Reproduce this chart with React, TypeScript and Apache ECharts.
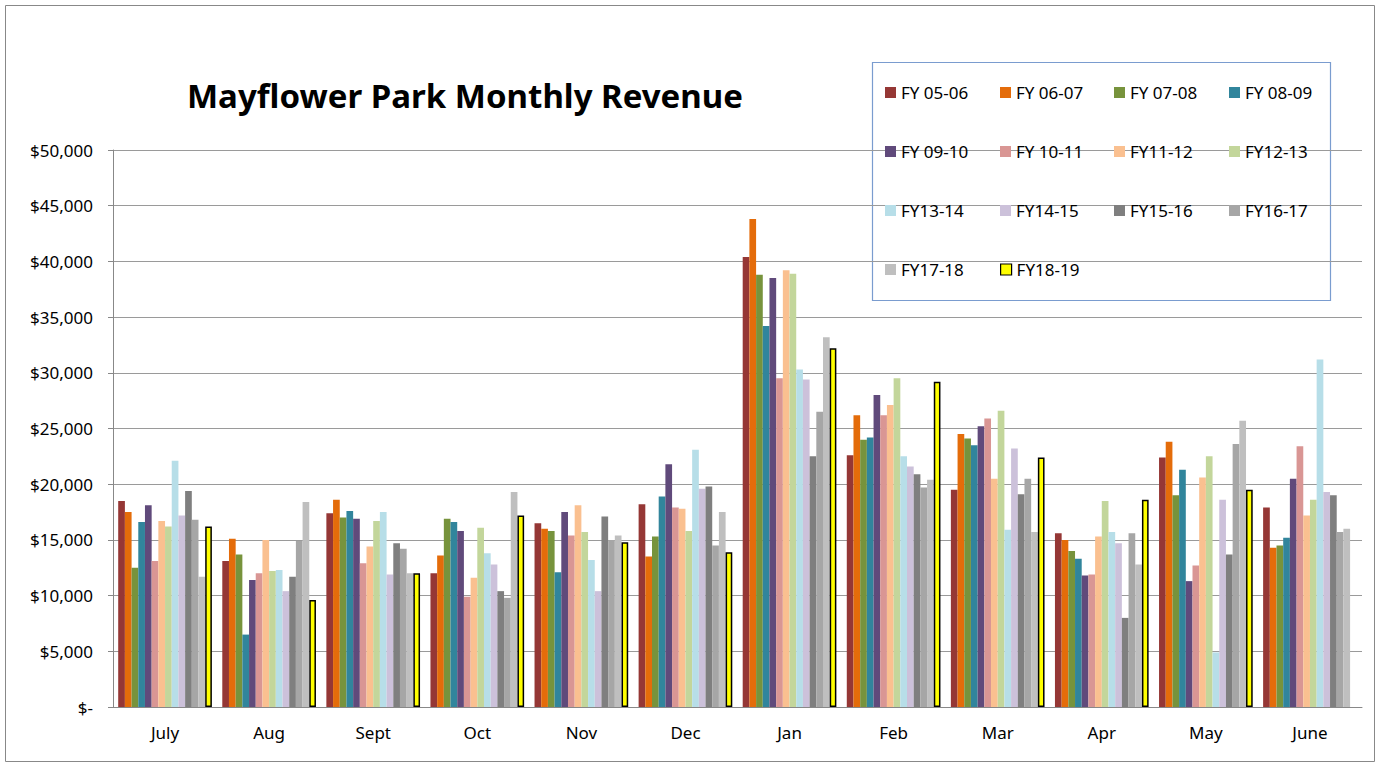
import React, { useEffect, useRef } from "react";
import * as echarts from "echarts";

const months = ["July", "Aug", "Sept", "Oct", "Nov", "Dec", "Jan", "Feb", "Mar", "Apr", "May", "June"];
const seriesNames = [
  "FY 05-06", "FY 06-07", "FY 07-08", "FY 08-09",
  "FY 09-10", "FY 10-11", "FY11-12", "FY12-13",
  "FY13-14", "FY14-15", "FY15-16", "FY16-17",
  "FY17-18", "FY18-19",
];
const seriesColors = [
  "#953735", "#E46C0A", "#77933C", "#31859C",
  "#604A7B", "#D99694", "#FAC090", "#C3D69B",
  "#B7DEE8", "#CCC1DA", "#7F7F7F", "#A6A6A6",
  "#BFBFBF", "#FFFF00",
];

const fy0506 = [18500, 13100, 17400, 12000, 16500, 18200, 40400, 22600, 19500, 15600, 22400, 17900];
const fy0607 = [17500, 15100, 18600, 13600, 16000, 13500, 43800, 26200, 24500, 15000, 23800, 14300];
const fy0708 = [12500, 13700, 17000, 16900, 15800, 15300, 38800, 24000, 24100, 14000, 19000, 14500];
const fy0809 = [16600, 6500, 17600, 16600, 12100, 18900, 34200, 24200, 23500, 13300, 21300, 15200];
const fy0910 = [18100, 11400, 16900, 15800, 17500, 21800, 38500, 28000, 25200, 11800, 11300, 20500];
const fy1011 = [13100, 12000, 12900, 9900, 15400, 17900, 29500, 26200, 25900, 11900, 12700, 23400];
const fy1112 = [16700, 15000, 14400, 11600, 18100, 17800, 39200, 27100, 20500, 15300, 20600, 17200];
const fy1213 = [16200, 12200, 16700, 16100, 15700, 15800, 38900, 29500, 26600, 18500, 22500, 18600];
const fy1314 = [22100, 12300, 17500, 13800, 13200, 23100, 30300, 22500, 15900, 15700, 4900, 31200];
const fy1415 = [17200, 10400, 11900, 12800, 10400, 19600, 29400, 21600, 23200, 14700, 18600, 19300];
const fy1516 = [19400, 11700, 14700, 10400, 17100, 19800, 22500, 20900, 19100, 8000, 13700, 19000];
const fy1617 = [16800, 14900, 14200, 9800, 15000, 14500, 26500, 19700, 20500, 15600, 23600, 15700];
const fy1718 = [11700, 18400, 12000, 19300, 15400, 17500, 33200, 20400, 15700, 12800, 25700, 16000];
const fy1819 = [16200, 9600, 12000, 17200, 14800, 13900, 32200, 29200, 22400, 18600, 19500, null];

const seriesValues = [fy0506, fy0607, fy0708, fy0809, fy0910, fy1011, fy1112, fy1213, fy1314, fy1415, fy1516, fy1617, fy1718, fy1819];

const yTicks = [0, 5000, 10000, 15000, 20000, 25000, 30000, 35000, 40000, 45000, 50000];

const FONT = "'Noto Sans', sans-serif";

export default function App() {
  const ref = useRef<HTMLDivElement>(null);

  useEffect(() => {
    document.body.style.margin = "0";
    if (!ref.current) return;
    const chart = echarts.init(ref.current, null, { renderer: "svg" });

    const series = seriesNames.map((name, i) => ({
      name,
      type: "bar",
      data: seriesValues[i],
      barGap: "0%",
      barCategoryGap: "10%",
      itemStyle: i === 13
        ? { color: seriesColors[i], borderColor: "#000", borderWidth: 1.5 }
        : { color: seriesColors[i] },
    }));

    const colX = [885, 1000, 1114, 1229];
    const rowY = [94, 153, 212, 271];
    const legends = seriesNames.map((n, i) => ({
      show: true,
      orient: "horizontal",
      left: colX[i % 4],
      top: rowY[Math.floor(i / 4)] - 10,
      padding: 0,
      itemWidth: 11,
      itemHeight: 11,
      icon: "rect",
      data: [
        {
          name: n,
          itemStyle: i === 13 ? { color: "#FFFF00", borderColor: "#000", borderWidth: 1.2 } : undefined,
        },
      ],
      selectedMode: false,
      textStyle: { fontFamily: FONT, fontSize: 17, color: "#000" },
    }));

    chart.setOption({
      animation: false,
      backgroundColor: "#fff",
      title: {
        text: "Mayflower Park Monthly Revenue",
        left: 182,
        top: 74,
        textStyle: { fontFamily: FONT, fontSize: 33, fontWeight: "bold", color: "#000" },
      },
      legend: legends,
      grid: { left: 113, right: 18, top: 150, bottom: 57 },
      xAxis: {
        type: "category",
        data: months,
        axisLine: { show: true, lineStyle: { color: "#888", width: 1 } },
        axisTick: { show: false },
        axisLabel: { fontFamily: FONT, fontSize: 17, color: "#000", margin: 17 },
      },
      yAxis: {
        type: "value",
        min: yTicks[0],
        max: yTicks[yTicks.length - 1],
        interval: 5000,
        axisLine: { show: true, lineStyle: { color: "#888", width: 1 } },
        axisTick: { show: true, length: 5, lineStyle: { color: "#888" } },
        splitLine: { show: true, lineStyle: { color: "#9a9a9a", width: 1.2 } },
        axisLabel: {
          fontFamily: FONT,
          fontSize: 17,
          color: "#000",
          margin: 20,
          formatter: (v: number) => (v === 0 ? "$-" : "$" + v.toLocaleString("en-US")),
        },
      },
      graphic: [
        {
          type: "rect",
          shape: { x: 5.5, y: 5.5, width: 1369, height: 756 },
          style: { fill: "none", stroke: "#888", lineWidth: 1 },
          silent: true,
          z: -1,
        },
        {
          type: "rect",
          shape: { x: 872.5, y: 62.5, width: 458, height: 238 },
          style: { fill: "#fff", stroke: "#7A9CCF", lineWidth: 1.2 },
          silent: true,
          z: 0,
        },
      ],
      series,
    });

    return () => chart.dispose();
  }, []);

  return <div ref={ref} style={{ width: 1380, height: 764 }} />;
}
